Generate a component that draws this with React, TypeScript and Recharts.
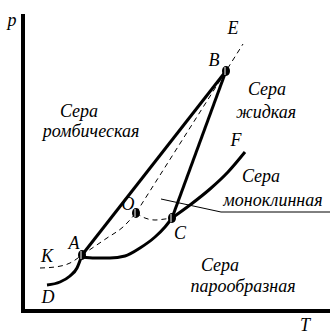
import { LineChart, Line, XAxis, YAxis, ReferenceDot } from "recharts";

// coordinates: T to the right, p upward
const AXES = [
  { T: 23, p: 322 },
  { T: 23, p: 25 },
  { T: 330, p: 25 },
];
const CURVE_DA = [
  { T: 47, p: 51 },
  { T: 60, p: 54 },
  { T: 70, p: 60 },
  { T: 77, p: 68 },
  { T: 82, p: 81 },
];
const CURVE_AC = [
  { T: 82, p: 79 },
  { T: 95, p: 78 },
  { T: 110, p: 78 },
  { T: 125, p: 80 },
  { T: 140, p: 88 },
  { T: 155, p: 99 },
  { T: 165, p: 109 },
  { T: 172, p: 118 },
];
const CURVE_CF = [
  { T: 172, p: 118 },
  { T: 190, p: 131 },
  { T: 210, p: 147 },
  { T: 228, p: 164 },
  { T: 245, p: 184 },
];
const LINE_AB = [
  { T: 82, p: 81 },
  { T: 226, p: 265 },
];
const LINE_CB = [
  { T: 172, p: 118 },
  { T: 226, p: 265 },
];
const DASH_KA = [
  { T: 40, p: 68 },
  { T: 55, p: 69 },
  { T: 70, p: 73 },
  { T: 82, p: 81 },
];
const DASH_AO = [
  { T: 82, p: 81 },
  { T: 107, p: 98 },
  { T: 123, p: 109 },
  { T: 136, p: 123 },
];
const DASH_OC = [
  { T: 136, p: 123 },
  { T: 145, p: 118 },
  { T: 155, p: 116 },
  { T: 165, p: 117 },
  { T: 172, p: 118 },
];
const DASH_OE = [
  { T: 136, p: 123 },
  { T: 226, p: 265 },
  { T: 243, p: 292 },
];
const POINTER = [
  { T: 161, p: 137 },
  { T: 221, p: 124 },
  { T: 330, p: 124 },
];
const POINTS = [
  { T: 82, p: 81 },
  { T: 226, p: 265 },
  { T: 172, p: 118 },
  { T: 136, p: 123 },
];
const LABELS = [
  { T: 79, p: 225, text: "Сера" },
  { T: 91, p: 205, text: "ромбическая" },
  { T: 267, p: 247, text: "Сера" },
  { T: 266, p: 224, text: "жидкая" },
  { T: 261, p: 160, text: "Сера" },
  { T: 273, p: 136, text: "моноклинная" },
  { T: 220, p: 71, text: "Сера" },
  { T: 243, p: 50, text: "парообразная" },
  { T: 233, p: 308, text: "E" },
  { T: 214, p: 276, text: "B" },
  { T: 236, p: 196, text: "F" },
  { T: 128, p: 132, text: "O" },
  { T: 180, p: 103, text: "C" },
  { T: 74, p: 93, text: "A" },
  { T: 47, p: 80, text: "K" },
  { T: 48, p: 39, text: "D" },
  { T: 12, p: 316, text: "p" },
  { T: 305, p: 11, text: "T" },
];

const FONT = "Liberation Serif, Times New Roman, DejaVu Serif, serif";

function Marker(props: any) {
  const { cx, cy } = props;
  return (
    <g>
      <ellipse cx={cx} cy={cy} rx={4} ry={5} fill="#000" />
      <line x1={cx - 1} y1={cy - 4} x2={cx - 1} y2={cy + 4} stroke="#fff" strokeWidth={1} />
    </g>
  );
}

function textShape(text: string) {
  return (props: any) => (
    <text
      x={props.cx}
      y={props.cy}
      textAnchor="middle"
      dominantBaseline="central"
      style={{ fontFamily: FONT, fontStyle: "italic", fontSize: 18 }}
      fill="#000"
    >
      {text}
    </text>
  );
}

const noDot = () => <g />;
const solid = {
  stroke: "#000",
  strokeWidth: 3,
  dot: noDot,
  activeDot: false,
  legendType: "none" as const,
  isAnimationActive: false,
};
const dashed = { ...solid, strokeWidth: 1, strokeDasharray: "5 4" };

export default function App() {
  return (
    <div style={{ position: "absolute", left: 0, top: 0, background: "#fff", fontFamily: FONT }}>
      <LineChart width={331} height={336} margin={{ top: 0, right: 0, bottom: 0, left: 0 }}>
        <XAxis type="number" dataKey="T" domain={[0, 331]} hide />
        <YAxis type="number" dataKey="p" domain={[0, 336]} hide />
        <Line data={AXES} dataKey="p" type="linear" {...solid} strokeWidth={4} />
        <Line data={DASH_KA} dataKey="p" type="monotone" {...dashed} />
        <Line data={DASH_AO} dataKey="p" type="monotone" {...dashed} />
        <Line data={DASH_OC} dataKey="p" type="monotone" {...dashed} />
        <Line data={DASH_OE} dataKey="p" type="linear" {...dashed} />
        <Line data={POINTER} dataKey="p" type="linear" {...solid} strokeWidth={1} />
        <Line data={CURVE_DA} dataKey="p" type="monotone" {...solid} />
        <Line data={CURVE_AC} dataKey="p" type="monotone" {...solid} />
        <Line data={CURVE_CF} dataKey="p" type="monotone" {...solid} />
        <Line data={LINE_AB} dataKey="p" type="linear" {...solid} />
        <Line data={LINE_CB} dataKey="p" type="linear" {...solid} />
        {POINTS.map((pt, i) => (
          <ReferenceDot key={"pt" + i} x={pt.T} y={pt.p} r={4} shape={Marker} />
        ))}
        {LABELS.map((l, i) => (
          <ReferenceDot key={"lb" + i} x={l.T} y={l.p} r={1} shape={textShape(l.text)} />
        ))}
      </LineChart>
    </div>
  );
}
